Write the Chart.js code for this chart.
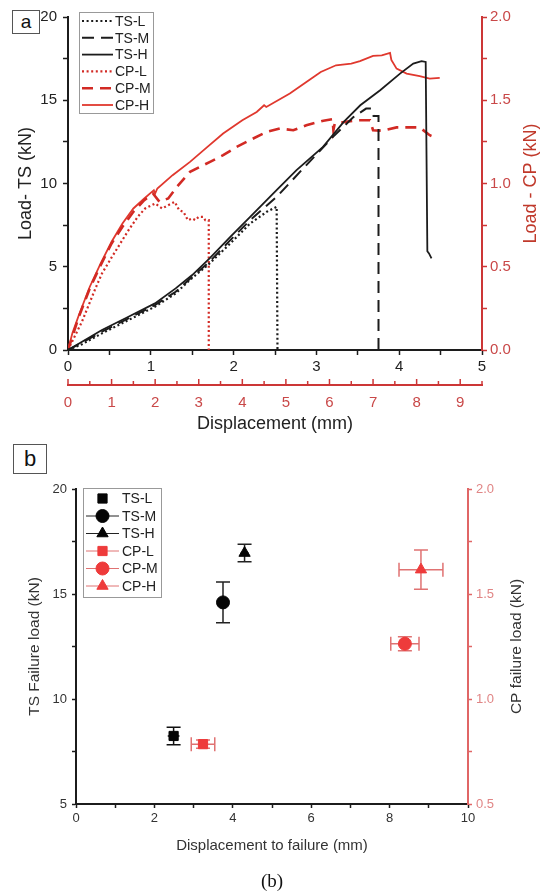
<!DOCTYPE html>
<html>
<head>
<meta charset="utf-8">
<script src="https://cdn.jsdelivr.net/npm/chart.js@4.4.1/dist/chart.umd.min.js"></script>
<style>
  body { margin: 0; width: 544px; height: 896px; background: #fff; position: relative; overflow: hidden;
         font-family: 'Liberation Sans', Arial, sans-serif; }
  .wrap { position: absolute; left: 0; width: 544px; }
  .tag { position: absolute; border: 1px solid #555; background: #fff; color: #111; text-align: center; z-index: 2; }
</style>
</head>
<body>
<div class="wrap" style="top:0;height:440px"><canvas id="chartA" width="544" height="440"></canvas></div>
<div class="wrap" style="top:440px;height:456px"><canvas id="chartB" width="544" height="456"></canvas></div>
<div class="tag" style="left:12px;top:10px;width:26px;height:22px;font-size:19px;line-height:22px">a</div>
<div class="tag" style="left:13px;top:444px;width:32px;height:28px;font-size:22px;line-height:27px">b</div>
<div style="position:absolute;left:0;width:544px;top:870px;text-align:center;font-family:'Liberation Serif','Times New Roman',serif;font-size:19px;color:#111">(b)</div>

<script>
// ---- (a) load / displacement curves ----
// TS series: displacement on the black axis (0-5 mm), load on the left axis (kN)
const tsDispL = [0, 0.17, 0.41, 0.73, 1.05, 1.3, 1.47, 1.71, 1.96, 2.2, 2.4, 2.52, 2.53];
const tsLoadL = [0, 0.35, 1.0, 1.8, 2.6, 3.4, 4.2, 5.2, 6.4, 7.6, 8.3, 8.6, 0];

const tsDispM = [0, 0.17, 0.41, 0.73, 1.05, 1.3, 1.5, 1.71, 1.96, 2.2, 2.52, 2.84, 3.2, 3.45, 3.6, 3.66, 3.69, 3.75, 3.75];
const tsLoadM = [0, 0.45, 1.1, 1.9, 2.7, 3.5, 4.4, 5.3, 6.6, 7.8, 9.2, 10.9, 12.8, 14.0, 14.5, 14.5, 14.05, 14.05, 0];

const tsDispH = [0, 0.17, 0.41, 0.73, 1.05, 1.3, 1.5, 1.71, 1.96, 2.2, 2.48, 2.76, 3.08, 3.33, 3.53, 3.77, 4.01, 4.17, 4.27, 4.32, 4.34, 4.36, 4.39];
const tsLoadH = [0, 0.5, 1.2, 2.0, 2.8, 3.7, 4.5, 5.5, 6.8, 8.0, 9.4, 10.8, 12.2, 13.7, 14.7, 15.6, 16.6, 17.2, 17.35, 17.3, 5.93, 5.8, 5.5];

// CP series: displacement on the red axis (0-9.5 mm), load on the right axis (kN)
const cpDispL = [0, 0.32, 0.63, 0.78, 1.01, 1.2, 1.39, 1.6, 1.77, 2.0, 2.16, 2.3, 2.45, 2.55, 2.65, 2.75, 2.85, 2.92, 3.0, 3.1, 3.15, 3.23, 3.23];
const cpLoadL = [0, 0.17, 0.37, 0.46, 0.56, 0.64, 0.72, 0.8, 0.85, 0.88, 0.85, 0.87, 0.89, 0.84, 0.83, 0.78, 0.79, 0.78, 0.8, 0.8, 0.78, 0.78, 0];

const cpDispM = [0, 0.25, 0.5, 0.75, 1.0, 1.25, 1.5, 1.75, 1.95, 2.1, 2.3, 2.5, 2.8, 3.26, 3.56, 3.87, 4.17, 4.56, 4.86, 5.17, 5.47, 5.86, 6.07, 6.09, 6.12, 6.62, 6.93, 7.0, 7.23, 7.54, 8.07, 8.3, 8.49];
const cpLoadM = [0, 0.2, 0.37, 0.51, 0.64, 0.74, 0.83, 0.9, 0.94, 0.89, 0.91, 0.98, 1.07, 1.13, 1.17, 1.22, 1.26, 1.31, 1.33, 1.32, 1.35, 1.377, 1.386, 1.32, 1.36, 1.38, 1.38, 1.32, 1.317, 1.337, 1.337, 1.29, 1.27];

const cpDispH = [0, 0.1, 0.25, 0.5, 0.75, 1.0, 1.25, 1.5, 1.75, 1.97, 2.0, 2.05, 2.4, 2.8, 3.2, 3.56, 4.0, 4.33, 4.5, 4.55, 5.09, 5.47, 5.8, 6.15, 6.5, 6.7, 7.0, 7.2, 7.39, 7.42, 7.54, 7.77, 8.07, 8.3, 8.53];
const cpLoadH = [0, 0.1, 0.21, 0.38, 0.52, 0.65, 0.76, 0.85, 0.91, 0.96, 0.94, 0.97, 1.05, 1.13, 1.22, 1.3, 1.38, 1.43, 1.47, 1.46, 1.54, 1.61, 1.67, 1.71, 1.72, 1.735, 1.766, 1.77, 1.785, 1.742, 1.69, 1.66, 1.645, 1.63, 1.635];

// ---- (b) failure points ----
const tsNames = ['TS-L', 'TS-M', 'TS-H'];
const tsFailDisp = [2.49, 3.75, 4.3];
const tsFailDispErr = [0.15, 0.1, 0.1];
const tsFailLoad = [8.24, 14.6, 16.95];
const tsFailLoadErr = [0.42, 0.97, 0.42];

const cpNames = ['CP-L', 'CP-M', 'CP-H'];
const cpFailDisp = [3.24, 8.39, 8.8];
const cpFailDispErr = [0.3, 0.36, 0.56];
const cpFailLoad = [0.785, 1.263, 1.616];
const cpFailLoadErr = [0.02, 0.033, 0.093];

const markerStyles = ['rect', 'circle', 'triangle'];

Chart.defaults.font.family = "'Liberation Sans', Arial, sans-serif";
Chart.defaults.color = '#222';

const BLACK = '#1c1c1c';
const RED = '#d22a24';
const RED_AXIS = '#cc3636';

const toXY = (xs, ys) => xs.map((x, i) => ({ x, y: ys[i] }));

// rotated title for the right-hand axis (reads bottom to top like the left one)
function sideTitle(text, x, color, size) {
  return {
    id: 'sideTitle',
    afterDraw(chart) {
      const { ctx, chartArea } = chart;
      ctx.save();
      ctx.translate(x, (chartArea.top + chartArea.bottom) / 2);
      ctx.rotate(-Math.PI / 2);
      ctx.font = size + "px 'Liberation Sans', Arial, sans-serif";
      ctx.fillStyle = color;
      ctx.textAlign = 'center';
      ctx.textBaseline = 'middle';
      ctx.fillText(text, 0, 0);
      ctx.restore();
    }
  };
}

// red secondary x axis in (a) has its ticks pointing up
const upTicks = {
  id: 'upTicks',
  afterDraw(chart) {
    const s = chart.scales.x2;
    const ctx = chart.ctx;
    ctx.save();
    ctx.strokeStyle = RED_AXIS;
    ctx.lineWidth = 1.5;
    for (let v = 0; v <= s.max + 1e-9; v += 0.5) {
      const px = s.getPixelForValue(v);
      const len = Number.isInteger(v) ? 6 : 4;
      ctx.beginPath();
      ctx.moveTo(px, s.top);
      ctx.lineTo(px, s.top - len);
      ctx.stroke();
    }
    ctx.restore();
  }
};

const legendA = {
  id: 'legendA',
  afterDraw(chart) {
    const ctx = chart.ctx;
    ctx.save();
    ctx.fillStyle = '#fff';
    ctx.fillRect(79, 12, 74, 101);
    ctx.strokeStyle = '#999';
    ctx.lineWidth = 1;
    ctx.strokeRect(79.5, 12.5, 74, 101);
    chart.data.datasets.forEach((ds, i) => {
      const y = 21 + i * 16.8;
      ctx.beginPath();
      ctx.setLineDash(ds.borderDash || []);
      ctx.strokeStyle = ds.borderColor;
      ctx.lineWidth = ds.borderWidth;
      ctx.moveTo(82, y);
      ctx.lineTo(113, y);
      ctx.stroke();
      ctx.setLineDash([]);
      ctx.fillStyle = '#222';
      ctx.font = "14px 'Liberation Sans', Arial, sans-serif";
      ctx.textBaseline = 'middle';
      ctx.fillText(ds.label, 115, y + 1);
    });
    ctx.restore();
  }
};

function lineSet(label, xs, ys, color, dash, width, cp) {
  return {
    label, data: toXY(xs, ys), showLine: true, pointRadius: 0,
    borderColor: color, backgroundColor: color, borderWidth: width,
    borderDash: dash, borderCapStyle: 'butt', tension: 0,
    xAxisID: cp ? 'x2' : 'x', yAxisID: cp ? 'y2' : 'y'
  };
}

new Chart(document.getElementById('chartA'), {
  type: 'scatter',
  data: {
    datasets: [
      lineSet('TS-L', tsDispL, tsLoadL, BLACK, [2, 2.6], 2.2, false),
      lineSet('TS-M', tsDispM, tsLoadM, BLACK, [12, 7], 2, false),
      lineSet('TS-H', tsDispH, tsLoadH, BLACK, [], 1.8, false),
      lineSet('CP-L', cpDispL, cpLoadL, RED, [2, 2.6], 2.2, true),
      lineSet('CP-M', cpDispM, cpLoadM, RED, [11, 7], 2.6, true),
      lineSet('CP-H', cpDispH, cpLoadH, '#e0382e', [], 1.8, true)
    ]
  },
  options: {
    responsive: false, animation: false, devicePixelRatio: 1,
    layout: { padding: { top: 17, left: 0, right: 0, bottom: 0 } },
    plugins: { legend: { display: false }, tooltip: { enabled: false } },
    scales: {
      x: {
        type: 'linear', position: 'bottom', weight: 0, min: 0, max: 5,
        ticks: { stepSize: 0.5, autoSkip: false, maxRotation: 0, padding: 3, color: '#222', font: { size: 15 },
                 callback: v => Number.isInteger(v) ? v : '' },
        grid: { drawOnChartArea: false, tickLength: 5, tickColor: BLACK, tickWidth: 1.5 },
        border: { color: BLACK, width: 2 },
        afterFit: s => { s.height = 35; }
      },
      x2: {
        type: 'linear', position: 'bottom', weight: 1, min: 0, max: 9.5,
        ticks: { stepSize: 0.5, autoSkip: false, maxRotation: 0, padding: 9, color: '#c94848', font: { size: 15 },
                 callback: v => Number.isInteger(v) ? v : '' },
        grid: { drawOnChartArea: false, drawTicks: false },
        border: { color: RED_AXIS, width: 2 },
        title: { display: true, text: 'Displacement (mm)', color: '#222', font: { size: 18 }, padding: { top: 0, bottom: 5 } },
        afterFit: s => { s.height = 55; }
      },
      y: {
        type: 'linear', position: 'left', min: 0, max: 20,
        ticks: { stepSize: 2.5, autoSkip: false, padding: 6, color: '#222', font: { size: 15 },
                 callback: v => v % 5 === 0 ? v : '' },
        grid: { drawOnChartArea: false, tickLength: 5, tickColor: BLACK, tickWidth: 1.5 },
        border: { color: BLACK, width: 2 },
        title: { display: true, text: 'Load- TS (kN)', color: '#222', font: { size: 18 }, padding: { top: 15, bottom: 0 } },
        afterFit: s => { s.width = 68; }
      },
      y2: {
        type: 'linear', position: 'right', min: 0, max: 2,
        ticks: { stepSize: 0.25, autoSkip: false, padding: 3, color: '#c94848', font: { size: 15 },
                 callback: v => Math.abs(v * 2 - Math.round(v * 2)) < 1e-6 ? v.toFixed(1) : '' },
        grid: { drawOnChartArea: false, tickLength: 5, tickColor: RED_AXIS, tickWidth: 1.5 },
        border: { color: RED_AXIS, width: 2 },
        afterFit: s => { s.width = 62; }
      }
    }
  },
  plugins: [upTicks, legendA, sideTitle('Load - CP (kN)', 531, '#c0392b', 18)]
});

// ---- chart (b) ----
const TS_MARK = '#050505';
const CP_MARK = '#ee3b3b';
const CP_BAR = '#e07272';

const errorBars = {
  id: 'errorBars',
  beforeDatasetsDraw(chart) {
    const ctx = chart.ctx;
    ctx.save();
    chart.data.datasets.forEach(ds => {
      const xs = chart.scales.x, ys = chart.scales[ds.yAxisID];
      ctx.strokeStyle = ds.barColor;
      ctx.lineWidth = 1.5;
      ds.data.forEach(p => {
        const px = xs.getPixelForValue(p.x), py = ys.getPixelForValue(p.y);
        const x1 = xs.getPixelForValue(p.x - p.xErr), x2 = xs.getPixelForValue(p.x + p.xErr);
        const y1 = ys.getPixelForValue(p.y - p.yErr), y2 = ys.getPixelForValue(p.y + p.yErr);
        ctx.beginPath();
        ctx.moveTo(px, y1); ctx.lineTo(px, y2);
        ctx.moveTo(px - 7, y1); ctx.lineTo(px + 7, y1);
        ctx.moveTo(px - 7, y2); ctx.lineTo(px + 7, y2);
        ctx.moveTo(x1, py); ctx.lineTo(x2, py);
        if (p.xErr > 0.2) {
          ctx.moveTo(x1, py - 7); ctx.lineTo(x1, py + 7);
          ctx.moveTo(x2, py - 7); ctx.lineTo(x2, py + 7);
        }
        ctx.stroke();
      });
    });
    ctx.restore();
  }
};

const legendB = {
  id: 'legendB',
  afterDraw(chart) {
    const ctx = chart.ctx;
    ctx.save();
    ctx.fillStyle = '#fff';
    ctx.fillRect(83, 48, 78, 109);
    ctx.strokeStyle = '#999';
    ctx.lineWidth = 1;
    ctx.strokeRect(83.5, 48.5, 78, 109);
    chart.data.datasets.forEach((ds, i) => {
      const y = 58.5 + i * 17.5;
      if (i > 0) {
        ctx.beginPath();
        ctx.strokeStyle = ds.barColor;
        ctx.lineWidth = 1;
        ctx.moveTo(86, y); ctx.lineTo(119, y);
        ctx.stroke();
      }
      ctx.fillStyle = ds.backgroundColor;
      ctx.strokeStyle = ds.backgroundColor;
      Chart.helpers.drawPoint(ctx, { pointStyle: ds.pointStyle, radius: ds.pointRadius, rotation: 0, borderWidth: 1 }, 102.5, y);
      ctx.fillStyle = '#222';
      ctx.font = "14px 'Liberation Sans', Arial, sans-serif";
      ctx.textBaseline = 'middle';
      ctx.fillText(ds.label, 122, y + 1);
    });
    ctx.restore();
  }
};

const failSets = [];
tsNames.forEach((name, i) => failSets.push({
  label: name,
  data: [{ x: tsFailDisp[i], y: tsFailLoad[i], xErr: tsFailDispErr[i], yErr: tsFailLoadErr[i] }],
  pointStyle: markerStyles[i], pointRadius: i === 0 ? 6.5 : 6.5,
  backgroundColor: TS_MARK, borderColor: TS_MARK, barColor: i === 0 ? '#111' : '#222',
  yAxisID: 'y'
}));
cpNames.forEach((name, i) => failSets.push({
  label: name,
  data: [{ x: cpFailDisp[i], y: cpFailLoad[i], xErr: cpFailDispErr[i], yErr: cpFailLoadErr[i] }],
  pointStyle: markerStyles[i], pointRadius: 6.5,
  backgroundColor: CP_MARK, borderColor: CP_MARK, barColor: CP_BAR,
  yAxisID: 'y2'
}));

new Chart(document.getElementById('chartB'), {
  type: 'scatter',
  data: { datasets: failSets },
  options: {
    responsive: false, animation: false, devicePixelRatio: 1,
    layout: { padding: { top: 49, left: 0, right: 0, bottom: 40 } },
    plugins: { legend: { display: false }, tooltip: { enabled: false } },
    elements: { point: { borderWidth: 1 } },
    scales: {
      x: {
        type: 'linear', position: 'bottom', min: 0, max: 10,
        ticks: { stepSize: 1, autoSkip: false, maxRotation: 0, padding: 3, color: '#333', font: { size: 13 },
                 callback: v => v % 2 === 0 ? v : '' },
        grid: { drawOnChartArea: false, tickLength: 4, tickColor: BLACK, tickWidth: 1.5 },
        border: { color: BLACK, width: 2 },
        title: { display: true, text: 'Displacement to failure (mm)', color: '#333', font: { size: 15 }, padding: { top: 0, bottom: 1 } },
        afterFit: s => { s.height = 52; }
      },
      y: {
        type: 'linear', position: 'left', min: 5, max: 20,
        ticks: { stepSize: 2.5, autoSkip: false, padding: 5, color: '#333', font: { size: 13 },
                 callback: v => v % 5 === 0 ? v : '' },
        grid: { drawOnChartArea: false, tickLength: 4, tickColor: BLACK, tickWidth: 1.5 },
        border: { color: BLACK, width: 2 },
        title: { display: true, text: 'TS Failure load (kN)', color: '#333', font: { size: 15.5 }, padding: { top: 25, bottom: 0 } },
        afterFit: s => { s.width = 76; }
      },
      y2: {
        type: 'linear', position: 'right', min: 0.5, max: 2,
        ticks: { stepSize: 0.25, autoSkip: false, padding: 4, color: '#e08585', font: { size: 13 },
                 callback: v => Math.abs(v * 2 - Math.round(v * 2)) < 1e-6 ? v.toFixed(1) : '' },
        grid: { drawOnChartArea: false, tickLength: 4, tickColor: '#e06666', tickWidth: 1.5 },
        border: { color: '#e06666', width: 2 },
        afterFit: s => { s.width = 76; }
      }
    }
  },
  plugins: [errorBars, legendB, sideTitle('CP failure load (kN)', 517, '#333', 15.5)]
});
</script>
</body>
</html>
